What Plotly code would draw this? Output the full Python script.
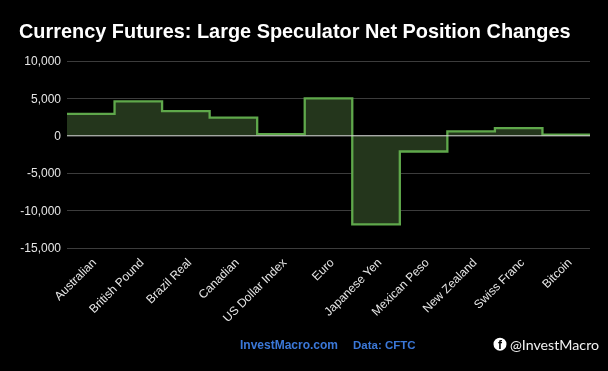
import plotly.graph_objects as go

categories = ["Australian", "British Pound", "Brazil Real", "Canadian", "US Dollar Index", "Euro",
              "Japanese Yen", "Mexican Peso", "New Zealand", "Swiss Franc", "Bitcoin"]
net_changes = [2930, 4600, 3290, 2430, 230, 5000, -11850, -2100, 600, 1030, 150]
y_ticks = [-15000, -10000, -5000, 0, 5000, 10000]
y_tick_labels = ["-15,000", "-10,000", "-5,000", "0", "5,000", "10,000"]
title = "Currency Futures: Large Speculator Net Position Changes"

W, H = 608, 371
L, R, T, B = 67, 590, 58.3, 251.3
PAD = (max(y_ticks) - min(y_ticks)) * 3 / (248.3 - 61.3)

edges = list(range(len(categories) + 1))
centers = [i + 0.5 for i in range(len(categories))]


def py(pixel):
    return (B - pixel) / (B - T)


def px(pixel):
    return (pixel - L) / (R - L)


fig = go.Figure(go.Scatter(
    x=edges, y=net_changes + net_changes[-1:], mode="lines",
    line=dict(color="#5fa84b", width=2.3, shape="hv"),
    fill="tozeroy", fillcolor="#24361c", hoverinfo="skip", showlegend=False,
))

font = "Liberation Sans, Arial, sans-serif"
fig.update_layout(
    width=W, height=H, margin=dict(l=L, r=W - R, t=T, b=H - B),
    paper_bgcolor="#000000", plot_bgcolor="#000000",
    font=dict(family=font, color="#e6e6e6", size=12),
    title=dict(text=f"<b>{title}</b>", x=19 / W, xanchor="left", y=1 - 31 / H, yanchor="middle",
               font=dict(family=font, size=19.9, color="#ffffff")),
    xaxis=dict(range=[0, len(categories)], tickmode="array", tickvals=centers, ticktext=categories,
               tickangle=-45, showgrid=False, zeroline=False, showline=False, ticks="",
               ticklabelstandoff=1, ticklabelshift=2,
               tickfont=dict(size=12, color="#e6e6e6")),
    yaxis=dict(range=[min(y_ticks) - PAD, max(y_ticks) + PAD], tickmode="array", tickvals=y_ticks,
               ticktext=y_tick_labels, ticklabelstandoff=5, gridcolor="#3c3c3c", gridwidth=1, zeroline=False,
               ticks="", showline=False,
               tickfont=dict(size=12, color="#e6e6e6")),
    annotations=[
        dict(text="<b>InvestMacro.com</b>", xref="paper", yref="paper", x=px(238),
             y=py(345), xanchor="left", yanchor="middle", showarrow=False,
             font=dict(family=font, size=12, color="#3b78d8")),
        dict(text="<b>Data: CFTC</b>", xref="paper", yref="paper", x=px(351),
             y=py(345), xanchor="left", yanchor="middle", showarrow=False,
             font=dict(family=font, size=11.5, color="#3b78d8")),
        dict(text="@InvestMacro", xref="paper", yref="paper", x=px(508),
             y=py(344.5), xanchor="left", yanchor="middle", showarrow=False,
             font=dict(family="Lato, sans-serif", size=14.2, color="#f2f2f2")),
        dict(text="<b>f</b>", xref="paper", yref="paper", x=px(500.5),
             y=py(345.5), xanchor="center", yanchor="middle", showarrow=False,
             font=dict(family=font, size=12, color="#000000")),
    ],
    shapes=[
        dict(type="circle", xref="paper", yref="paper", fillcolor="#ffffff", line_width=0,
             x0=px(493.5), x1=px(506.5), y0=py(351), y1=py(338)),
        dict(type="line", xref="paper", yref="y", x0=0, x1=1, y0=0, y1=0, layer="above",
             line=dict(color="#d8d8d8", width=1)),
    ],
)
fig.write_html("out.html", config={"displayModeBar": False},
               post_script="document.body.style.margin='0';document.body.style.background='#000';"
                           "document.querySelectorAll('.main-svg').forEach(function(s){s.style.willChange='transform';});")
